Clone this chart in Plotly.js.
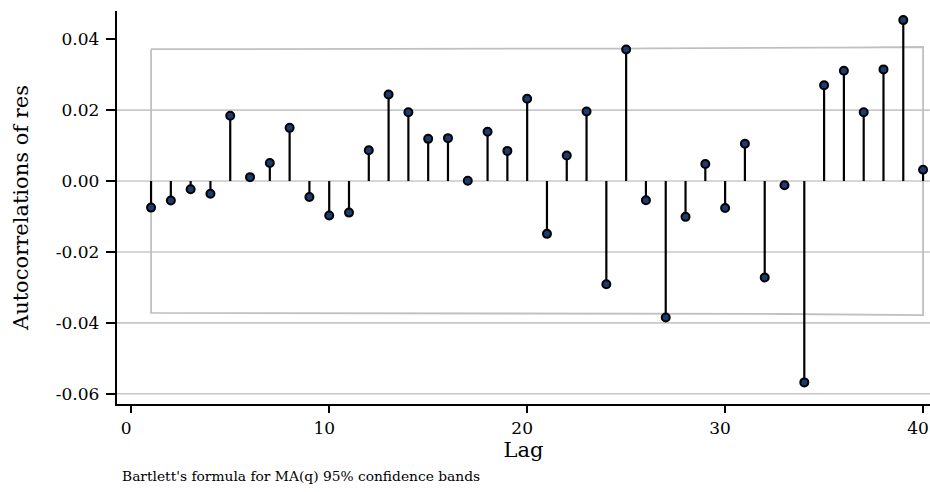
<!DOCTYPE html>
<html>
<head>
<meta charset="utf-8">
<script src="https://cdn.plot.ly/plotly-3.0.1.min.js"></script>
<style>
  html, body { margin: 0; padding: 0; background: #ffffff; }
  #chart { width: 930px; height: 492px; }
</style>
</head>
<body>
<div id="chart"></div>
<script>
// Lags 1..40
const lags = [1,2,3,4,5,6,7,8,9,10,11,12,13,14,15,16,17,18,19,20,
              21,22,23,24,25,26,27,28,29,30,31,32,33,34,35,36,37,38,39,40];
// Autocorrelations of residuals
const acf = [-0.0075,-0.0055,-0.0023,-0.0036,0.0184,0.0011,0.0051,0.0150,-0.0045,-0.0097,
             -0.0089,0.0087,0.0244,0.0194,0.0119,0.0121,0.0001,0.0139,0.0085,0.0232,
             -0.0149,0.0072,0.0196,-0.0291,0.0371,-0.0054,-0.0385,-0.0101,0.0048,-0.0076,
             0.0105,-0.0272,-0.0012,-0.0568,0.0270,0.0311,0.0194,0.0315,0.0454,0.0032];
// Bartlett 95% confidence band half-width per lag
const band = [0.03720,0.03720,0.03720,0.03720,0.03720,0.03722,0.03722,0.03722,0.03723,0.03723,
              0.03723,0.03723,0.03724,0.03726,0.03727,0.03728,0.03728,0.03728,0.03729,0.03729,
              0.03731,0.03732,0.03732,0.03734,0.03737,0.03742,0.03742,0.03748,0.03748,0.03748,
              0.03748,0.03749,0.03751,0.03751,0.03763,0.03766,0.03770,0.03771,0.03775,0.03782];
// Tick labels
const yTickVals = [0.04,0.02,0.00,-0.02,-0.04,-0.06];
const yTickText = ["0.04","0.02","0.00","-0.02","-0.04","-0.06"];
const gridVals = [0.02,0.00,-0.02,-0.04,-0.06];
const xTickVals = [0,10,20,30,40];
const xTickText = ["0","10","20","30","40"];

// Confidence band outline (closed)
const bandX = lags.concat(lags.slice().reverse(), [lags[0]]);
const bandY = band.concat(band.map(v => -v).reverse(), [band[0]]);

// Stems
const stemX = [], stemY = [];
lags.forEach((l, i) => { stemX.push(l, l, null); stemY.push(0, acf[i], null); });

const serif = "DejaVu Serif, Liberation Serif, serif";

const traces = [
  { x: bandX, y: bandY, type: 'scatter', mode: 'lines',
    line: { color: '#c0c0c0', width: 1.8 }, hoverinfo: 'skip', showlegend: false, cliponaxis: false },
  { x: stemX, y: stemY, type: 'scatter', mode: 'lines',
    line: { color: '#000000', width: 2.2 }, hoverinfo: 'skip', showlegend: false },
  { x: lags, y: acf, type: 'scatter', mode: 'markers',
    marker: { symbol: 'circle', size: 8, color: '#1c3b6f', line: { color: '#000000', width: 2 } },
    showlegend: false, cliponaxis: false }
];

const shapes = gridVals.map(v => ({
  type: 'line', xref: 'paper', yref: 'y', x0: 0, x1: 1, y0: v, y1: v,
  line: { color: '#c8c8c8', width: 1.6 }, layer: 'below'
}));

const layout = {
  width: 930, height: 492,
  margin: { l: 117, r: 0, t: 11, b: 88 },
  paper_bgcolor: '#ffffff', plot_bgcolor: '#ffffff',
  font: { family: serif, color: '#000000' },
  showlegend: false,
  shapes: shapes,
  xaxis: {
    range: [-0.72, 40.35],
    tickmode: 'array', tickvals: xTickVals, ticktext: xTickText,
    ticks: 'outside', ticklen: 7, tickwidth: 2, tickcolor: '#000000',
    showline: true, linecolor: '#000000', linewidth: 2.2,
    showgrid: false, zeroline: false,
    ticklabeloverflow: 'allow',
    ticklabelshift: -5,
    tickfont: { family: serif, size: 17, color: '#000000' },
    title: { text: 'Lag', font: { family: serif, size: 21, color: '#000000' }, standoff: 0 }
  },
  yaxis: {
    range: [-0.0629, 0.04797],
    tickmode: 'array', tickvals: yTickVals, ticktext: yTickText,
    ticks: 'outside', ticklen: 9, tickwidth: 2, tickcolor: '#000000',
    showline: true, linecolor: '#000000', linewidth: 2.2,
    showgrid: false, zeroline: false,
    ticklabelstandoff: 3,
    tickfont: { family: serif, size: 17, color: '#000000' },
    title: { text: 'Autocorrelations of res', font: { family: serif, size: 21, color: '#000000' }, standoff: 22 }
  },
  annotations: [
    { text: "Bartlett's formula for MA(q) 95% confidence bands",
      xref: 'paper', yref: 'paper', x: 0, y: 0, xanchor: 'left', yanchor: 'middle',
      xshift: 3, yshift: -72, showarrow: false,
      font: { family: serif, size: 13.8, color: '#000000' } }
  ]
};

Plotly.newPlot('chart', traces, layout, { displayModeBar: false, staticPlot: true });
</script>
</body>
</html>
